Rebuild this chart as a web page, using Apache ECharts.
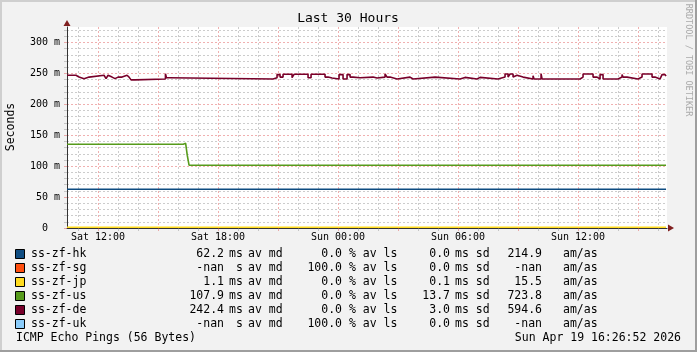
<!DOCTYPE html>
<html>
<head>
<meta charset="utf-8">
<script src="https://cdn.jsdelivr.net/npm/echarts@6/dist/echarts.min.js"></script>
<style>
  html, body { margin: 0; padding: 0; background: #f2f2f2; }
  #main { width: 697px; height: 352px; }
</style>
</head>
<body>
<div id="main"></div>
<script>
// targets, legend colours and the summary numbers printed under the graph
const names = ['ss-zf-hk', 'ss-zf-sg', 'ss-zf-jp', 'ss-zf-us', 'ss-zf-de', 'ss-zf-uk'];
const colors = ['#0f4c81', '#ff4f10', '#ffdb1f', '#579b1c', '#78002a', '#8acbf9'];
const avgVal = ['62.2', '-nan', '1.1', '107.9', '242.4', '-nan'];
const avgUnit = ['ms', ' s', 'ms', 'ms', 'ms', ' s'];
const lossVal = ['0.0', '100.0', '0.0', '0.0', '0.0', '100.0'];
const sdVal = ['0.0', '0.0', '0.1', '13.7', '3.0', '0.0'];
const amasVal = ['214.9', '-nan', '15.5', '723.8', '594.6', '-nan'];

// x is hours since Sat 00:00 ; window = Sat 10:26:52 .. Sun 16:26:52
const tStart = 10.4478;
const tEnd = 40.4478;
const hourTicks = [11, 13, 14, 16, 17, 19, 20, 22, 23, 25, 26, 28, 29, 31, 32, 34, 35, 37, 38, 40];
const majorTicks = [12, 15, 18, 21, 24, 27, 30, 33, 36, 39];
const labelTicks = [12, 18, 24, 30, 36];
const tickLabels = ['Sat 12:00', 'Sat 18:00', 'Sun 00:00', 'Sun 06:00', 'Sun 12:00'];
const yMinor = [10, 20, 30, 40, 60, 70, 80, 90, 110, 120, 130, 140, 160, 170, 180, 190,
  210, 220, 230, 240, 260, 270, 280, 290, 310, 320];
const yMajor = [0, 50, 100, 150, 200, 250, 300];

// median rtt in ms, [hour, value] at each change
const hkData = [[10.45, 62.6], [40.40, 62.6]];
const sgData = [];
const jpData = [[10.45, 1.1], [40.40, 1.1]];
const usData = [[10.45, 135.5], [16.26, 137], [16.38, 135.5], [16.46, 117.7], [16.55, 101.5], [40.40, 101.5]];
const deData = [
  [10.45, 247], [10.90, 244], [11.05, 247], [11.15, 241.5], [11.30, 244], [11.55, 247],
  [12.30, 244], [12.40, 241.5], [12.50, 247], [12.60, 244], [12.70, 241.5], [12.85, 244],
  [13.00, 241.5], [13.10, 244], [13.20, 247], [13.45, 244], [13.55, 247], [13.65, 239.5],
  [13.85, 241], [15.37, 249.5], [15.42, 243], [15.55, 241],
  [20.75, 243], [20.95, 248], [21.10, 244], [21.25, 248.5], [21.70, 243], [21.80, 248.5],
  [22.50, 243], [22.65, 248.5], [23.35, 244], [23.50, 242.5], [23.70, 241], [24.05, 248],
  [24.25, 241], [24.45, 248], [24.60, 244], [24.75, 243], [25.10, 244],
  [25.75, 242.5], [25.95, 244], [26.35, 249], [26.45, 244], [26.60, 241], [26.95, 244],
  [27.60, 241], [27.75, 244], [28.85, 241], [30.10, 243.5], [30.35, 241], [30.95, 243.5],
  [31.10, 241], [32.00, 244], [32.35, 249], [32.50, 244], [32.60, 249], [32.75, 244],
  [32.85, 247], [32.95, 244], [33.25, 241], [33.75, 246], [33.80, 241], [34.15, 249.5],
  [34.20, 241], [36.10, 244], [36.25, 249], [36.75, 244], [36.95, 241], [37.10, 248],
  [37.25, 241], [38.00, 244], [38.20, 248], [38.25, 244], [38.45, 241], [39.00, 244],
  [39.20, 249], [39.70, 244], [39.85, 241], [40.10, 244], [40.20, 248], [40.35, 245.5],
  [40.40, 245.5]
];
const ukData = [];
const allData = [hkData, sgData, jpData, usData, deData, ukData];

const mono = '"DejaVu Sans Mono", monospace';
const gridGray = 'rgba(143,143,143,0.45)';
const gridRed = 'rgba(222,79,79,0.45)';

function txt(x, y, s, align, size, fill, rot) {
  return {
    type: 'text', x: x, y: y, rotation: rot || 0, silent: true,
    style: {
      text: s, fill: fill || '#000', font: size + 'px ' + mono,
      align: align, verticalAlign: 'middle'
    }
  };
}

var myChart = echarts.init(document.getElementById('main'), null, { renderer: 'canvas' });

var graphics = [
  // 3d frame
  { type: 'rect', shape: { x: 0, y: 0, width: 697, height: 2 }, style: { fill: '#cfcfcf' }, silent: true },
  { type: 'rect', shape: { x: 0, y: 0, width: 2, height: 352 }, style: { fill: '#cfcfcf' }, silent: true },
  { type: 'rect', shape: { x: 0, y: 350, width: 697, height: 2 }, style: { fill: '#9e9e9e' }, silent: true },
  { type: 'rect', shape: { x: 695, y: 0, width: 2, height: 352 }, style: { fill: '#9e9e9e' }, silent: true },
  // axis arrows
  { type: 'polygon', shape: { points: [[67, 20], [63.5, 26], [70.5, 26]] }, style: { fill: '#801f1f' }, z: 10, silent: true },
  { type: 'polygon', shape: { points: [[674, 228], [668, 224.5], [668, 231.5]] }, style: { fill: '#801f1f' }, z: 10, silent: true },
  txt(348, 19, 'Last 30 Hours', 'center', 13),
  txt(11, 127, 'Seconds', 'center', 11.5, '#000', Math.PI / 2),
  txt(688, 60, 'RRDTOOL / TOBI OETIKER', 'center', 8.5, '#aaaaaa', -Math.PI / 2),
  txt(16, 338, 'ICMP Echo Pings (56 Bytes)', 'left', 11.5),
  txt(681, 338, 'Sun Apr 19 16:26:52 2026', 'right', 11.5)
];

names.forEach(function (n, i) {
  var y = 254 + i * 14;
  graphics.push({
    type: 'rect', shape: { x: 15.5, y: y - 4.5, width: 9, height: 9 },
    style: { fill: colors[i], stroke: '#000', lineWidth: 1 }, silent: true
  });
  graphics.push(txt(31, y, n, 'left', 11.5));
  graphics.push(txt(224, y, avgVal[i], 'right', 11.5));
  graphics.push(txt(229, y, avgUnit[i], 'left', 11.5));
  graphics.push(txt(248, y, 'av md', 'left', 11.5));
  graphics.push(txt(342, y, lossVal[i], 'right', 11.5));
  graphics.push(txt(349, y, '% av ls', 'left', 11.5));
  graphics.push(txt(450, y, sdVal[i], 'right', 11.5));
  graphics.push(txt(455, y, 'ms sd', 'left', 11.5));
  graphics.push(txt(542, y, amasVal[i], 'right', 11.5));
  graphics.push(txt(563, y, 'am/as', 'left', 11.5));
});

var option = {
  backgroundColor: '#f2f2f2',
  animation: false,
  grid: {
    left: 67, top: 27, width: 600, height: 201,
    show: true, backgroundColor: '#ffffff', borderWidth: 0
  },
  xAxis: [
    {
      type: 'value', min: tStart, max: tEnd, position: 'bottom',
      axisLine: { show: true, onZero: false, lineStyle: { color: '#333', width: 1 } },
      axisTick: { show: true, length: 3, customValues: hourTicks, lineStyle: { color: gridGray } },
      axisLabel: { show: false },
      splitLine: { show: true, lineStyle: { color: gridGray, type: [2, 2], width: 1 } }
    },
    {
      type: 'value', min: tStart, max: tEnd, position: 'bottom',
      axisLine: { show: false, onZero: false },
      axisTick: { show: true, length: 3, customValues: majorTicks, lineStyle: { color: gridRed } },
      axisLabel: {
        show: true, customValues: labelTicks, margin: 4,
        fontFamily: mono, fontSize: 10, color: '#000',
        formatter: function (v) { return tickLabels[labelTicks.indexOf(Math.round(v))] || ''; }
      },
      splitLine: { show: true, lineStyle: { color: gridRed, type: [2, 2], width: 1 } }
    }
  ],
  yAxis: [
    {
      type: 'value', min: 0, max: 325, position: 'left',
      axisLine: { show: true, onZero: false, lineStyle: { color: '#333', width: 1 } },
      axisTick: { show: true, length: 3, customValues: yMinor, lineStyle: { color: gridGray } },
      axisLabel: { show: false },
      splitLine: { show: true, lineStyle: { color: gridGray, type: [2, 2], width: 1 } }
    },
    {
      type: 'value', min: 0, max: 325, position: 'left',
      axisLine: { show: false, onZero: false },
      axisTick: { show: true, length: 3, customValues: yMajor, lineStyle: { color: gridRed } },
      axisLabel: {
        show: true, customValues: yMajor, margin: 7,
        fontFamily: mono, fontSize: 10, color: '#000',
        formatter: function (v) { return v === 0 ? '0  ' : v + ' m'; }
      },
      splitLine: { show: true, lineStyle: { color: gridRed, type: [2, 2], width: 1 } }
    }
  ],
  series: names.map(function (n, i) {
    return {
      name: n, type: 'line', step: 'end', showSymbol: false, symbol: 'none',
      xAxisIndex: 0, yAxisIndex: 0,
      data: allData[i],
      lineStyle: { color: colors[i], width: 1.6 },
      z: 3 + i
    };
  }),
  graphic: graphics
};

myChart.setOption(option);
</script>
</body>
</html>
